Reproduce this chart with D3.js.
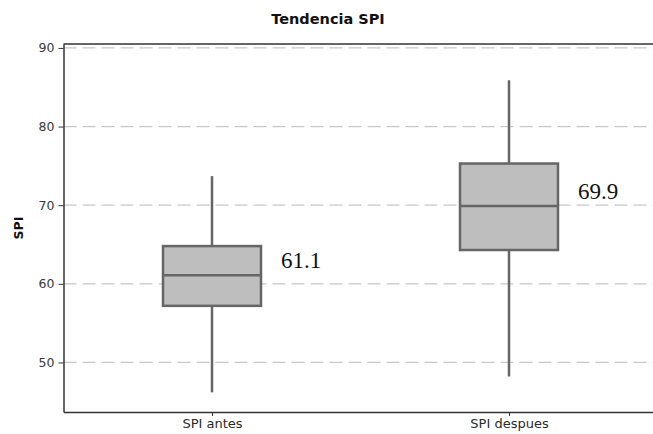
<!DOCTYPE html>
<html>
<head>
<meta charset="utf-8">
<script src="https://cdn.jsdelivr.net/npm/d3@7"></script>
<style>
  html, body { margin: 0; padding: 0; background: #fff; }
  svg { display: block; }
</style>
</head>
<body>
<svg id="chart" width="653" height="434"></svg>
<script>
// Box plot summaries for SPI before and after
const categories = ["SPI antes", "SPI despues"];
const whiskerLow = [46.2, 48.2];
const q1 = [57.2, 64.3];
const median = [61.1, 69.9];
const q3 = [64.8, 75.3];
const whiskerHigh = [73.7, 85.9];
const yTicks = [50, 60, 70, 80, 90];

const boxes = categories.map((c, i) => ({
  name: c, lo: whiskerLow[i], q1: q1[i], med: median[i], q3: q3[i], hi: whiskerHigh[i]
}));

const svg = d3.select("#chart");
const plotLeft = 63.5, plotTop = 44, plotBottom = 412, plotRight = 657.5;

const x = d3.scalePoint().domain(categories).range([plotLeft, plotRight]).padding(0.5);
const y = d3.scaleLinear().domain([43.7, 90.5]).range([plotBottom, plotTop]);
const boxW = x.step() * 0.33;

// dashed horizontal gridlines
svg.append("g").selectAll("line").data(yTicks).join("line")
  .attr("x1", plotLeft).attr("x2", 653)
  .attr("y1", d => y(d)).attr("y2", d => y(d))
  .attr("stroke", "#c8c8c8").attr("stroke-width", 1.3)
  .attr("stroke-dasharray", "13,6");

// top border of the plot frame
svg.append("line").attr("x1", plotLeft).attr("x2", 653).attr("y1", plotTop).attr("y2", plotTop)
  .attr("stroke", "#333").attr("stroke-width", 1.5);

// y axis
const yAxis = svg.append("g").attr("transform", `translate(${plotLeft},0)`)
  .call(d3.axisLeft(y).tickValues(yTicks).tickSize(5).tickSizeOuter(0).tickPadding(4));
yAxis.select(".domain").attr("stroke", "#333").attr("stroke-width", 1.5);
yAxis.selectAll(".tick line").attr("stroke", "#333");
yAxis.selectAll("text").attr("font-family", "DejaVu Sans").attr("font-size", 12.5).attr("fill", "#3a3a3a");

// x axis
const xAxis = svg.append("g").attr("transform", `translate(0,${plotBottom})`)
  .call(d3.axisBottom(x).tickSize(4).tickSizeOuter(0).tickPadding(3));
xAxis.select(".domain").attr("stroke", "#333").attr("stroke-width", 1.5);
xAxis.selectAll(".tick line").attr("stroke", "#333");
xAxis.selectAll("text").attr("font-family", "DejaVu Sans").attr("font-size", 13).attr("fill", "#2a2a2a");

// whiskers
const g = svg.append("g");
g.selectAll("line.whisker").data(boxes).join("line").attr("class", "whisker")
  .attr("x1", d => x(d.name)).attr("x2", d => x(d.name))
  .attr("y1", d => y(d.lo)).attr("y2", d => y(d.hi))
  .attr("stroke", "#666").attr("stroke-width", 2.5);

// boxes
g.selectAll("rect").data(boxes).join("rect")
  .attr("x", d => x(d.name) - boxW / 2).attr("width", boxW)
  .attr("y", d => y(d.q3)).attr("height", d => y(d.q1) - y(d.q3))
  .attr("fill", "#bebebe").attr("stroke", "#666").attr("stroke-width", 2.5);

// medians
g.selectAll("line.median").data(boxes).join("line").attr("class", "median")
  .attr("x1", d => x(d.name) - boxW / 2).attr("x2", d => x(d.name) + boxW / 2)
  .attr("y1", d => y(d.med)).attr("y2", d => y(d.med))
  .attr("stroke", "#666").attr("stroke-width", 2.5);

// median value labels
g.selectAll("text.val").data(boxes).join("text").attr("class", "val")
  .attr("x", d => x(d.name) + boxW / 2 + 20)
  .attr("y", d => y(d.med) - 12)
  .attr("dominant-baseline", "middle")
  .attr("font-family", "Liberation Serif").attr("font-size", 23).attr("fill", "#111")
  .text(d => d.med.toFixed(1));

// title
svg.append("text").attr("x", 328).attr("y", 24).attr("text-anchor", "middle")
  .attr("font-family", "DejaVu Sans").attr("font-weight", "bold").attr("font-size", 14.5)
  .attr("fill", "#111").text("Tendencia SPI");

// y axis title
svg.append("text").attr("transform", "translate(23,228) rotate(-90)")
  .attr("text-anchor", "middle")
  .attr("font-family", "DejaVu Sans").attr("font-weight", "bold").attr("font-size", 12.5)
  .attr("fill", "#111").text("SPI");
</script>
</body>
</html>
